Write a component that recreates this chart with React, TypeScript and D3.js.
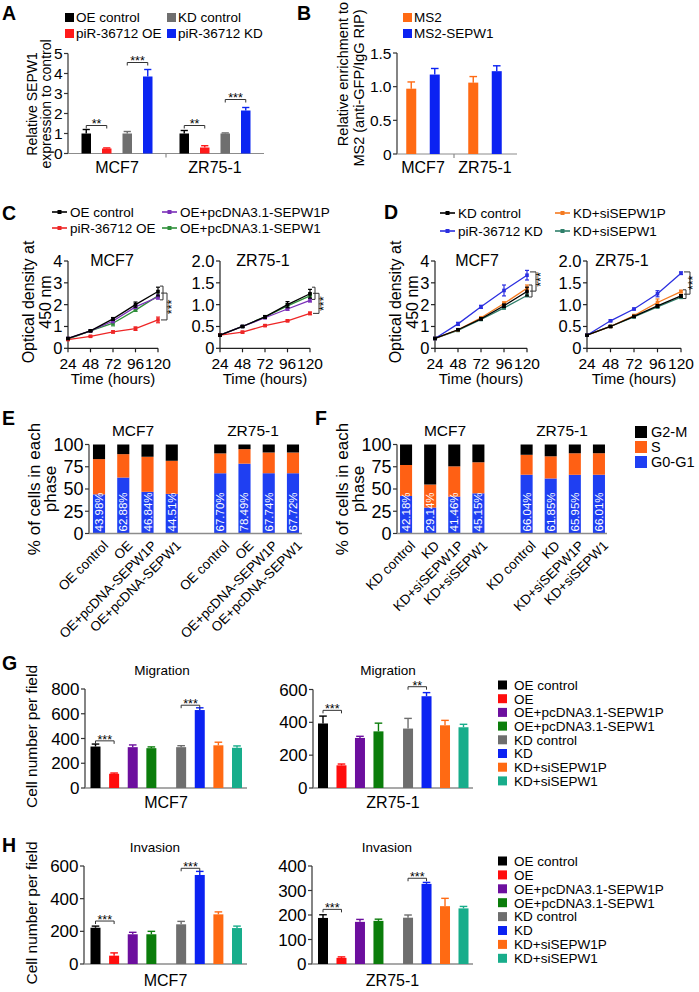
import React from "react";
import * as d3 from "d3";

const FONT = "'Liberation Sans', Arial, Helvetica, sans-serif";

/* ---------------- Panel A ---------------- */
const aGroups = ["MCF7", "ZR75-1"];
const aSeries = ["OE control", "piR-36712 OE", "KD control", "piR-36712 KD"];
const aColors = ["#000000", "#ff1a1a", "#6f6f6f", "#0b25f2"];
const aMCF7 = [1.0, 0.25, 1.0, 3.85];
const aMCF7Err = [0.2, 0.03, 0.1, 0.35];
const aZR = [1.0, 0.3, 1.0, 2.15];
const aZRErr = [0.15, 0.09, 0.03, 0.15];
const aSig = [
  { group: 0, from: 0, to: 1, level: 1.4, label: "**" },
  { group: 0, from: 2, to: 3, level: 4.55, label: "***" },
  { group: 1, from: 0, to: 1, level: 1.4, label: "**" },
  { group: 1, from: 2, to: 3, level: 2.7, label: "***" },
];
const aTicks = [0, 1, 2, 3, 4, 5];

/* ---------------- Panel B ---------------- */
const bGroups = ["MCF7", "ZR75-1"];
const bSeries = ["MS2", "MS2-SEPW1"];
const bColors = ["#ff6a13", "#0b22f2"];
const bMCF7 = [0.97, 1.18];
const bMCF7Err = [0.1, 0.09];
const bZR = [1.06, 1.23];
const bZRErr = [0.09, 0.08];
const bTicks = [0, 0.5, 1.0, 1.5];

/* ---------------- Panels C / D ---------------- */
const lineTimes = [24, 48, 72, 96, 120];
const cNames = ["OE control", "piR-36712 OE", "OE+pcDNA3.1-SEPW1P", "OE+pcDNA3.1-SEPW1"];
const cColors = ["#000000", "#ee2626", "#7a2fb8", "#2f8f3a"];
const cMCF7 = [
  [0.45, 0.8, 1.35, 2.0, 2.6],
  [0.4, 0.55, 0.75, 0.9, 1.3],
  [0.45, 0.8, 1.25, 1.9, 2.35],
  [0.42, 0.8, 1.15, 1.75, 2.4],
];
const cMCF7Err = [
  [0.03, 0.03, 0.06, 0.12, 0.2],
  [0.02, 0.03, 0.05, 0.08, 0.13],
  [0.03, 0.03, 0.08, 0.08, 0.1],
  [0.03, 0.03, 0.12, 0.06, 0.08],
];
const cZR = [
  [0.3, 0.5, 0.72, 1.0, 1.25],
  [0.3, 0.37, 0.52, 0.63, 0.8],
  [0.3, 0.5, 0.7, 0.9, 1.1],
  [0.3, 0.5, 0.72, 0.97, 1.2],
];
const cZRErr = [
  [0.02, 0.02, 0.03, 0.07, 0.1],
  [0.02, 0.02, 0.02, 0.02, 0.03],
  [0.02, 0.02, 0.02, 0.03, 0.04],
  [0.02, 0.02, 0.03, 0.05, 0.06],
];
const dNames = ["KD control", "piR-36712 KD", "KD+siSEPW1P", "KD+siSEPW1"];
const dColors = ["#000000", "#2b2fe0", "#f47a20", "#2f7f6a"];
const dMCF7 = [
  [0.45, 0.85, 1.35, 1.95, 2.6],
  [0.45, 1.12, 1.9, 2.65, 3.35],
  [0.45, 0.85, 1.4, 2.05, 2.75],
  [0.45, 0.82, 1.32, 1.85, 2.42],
];
const dMCF7Err = [
  [0.02, 0.03, 0.05, 0.08, 0.2],
  [0.02, 0.07, 0.07, 0.25, 0.22],
  [0.02, 0.03, 0.05, 0.08, 0.15],
  [0.02, 0.03, 0.04, 0.05, 0.05],
];
const dZR = [
  [0.3, 0.5, 0.73, 0.97, 1.2],
  [0.3, 0.63, 0.9, 1.25, 1.72],
  [0.3, 0.5, 0.75, 1.05, 1.3],
  [0.3, 0.5, 0.72, 0.95, 1.17],
];
const dZRErr = [
  [0.01, 0.02, 0.02, 0.03, 0.03],
  [0.01, 0.02, 0.02, 0.07, 0.03],
  [0.01, 0.02, 0.02, 0.08, 0.03],
  [0.01, 0.02, 0.02, 0.03, 0.03],
];
const odTicks4 = [0, 1, 2, 3, 4];
const odTicks2 = [0, 0.5, 1.0, 1.5, 2.0];

/* ---------------- Panels E / F ---------------- */
const phaseKeys = ["G0-G1", "S", "G2-M"];
const phaseColors = ["#1f3ff2", "#ff6014", "#000000"];
const eCats = ["OE control", "OE", "OE+pcDNA-SEPW1P", "OE+pcDNA-SEPW1"];
const eMCF7G0 = [43.98, 62.88, 46.84, 44.51];
const eMCF7S = [39.6, 26.3, 39.4, 37.2];
const eZRG0 = [67.7, 78.49, 67.74, 67.72];
const eZRS = [22.3, 16.3, 23.3, 23.3];
const fCats = ["KD control", "KD", "KD+siSEPW1P", "KD+siSEPW1"];
const fMCF7G0 = [42.18, 29.14, 41.46, 45.15];
const fMCF7S = [34.8, 25.9, 34.0, 34.9];
const fZRG0 = [66.04, 61.85, 65.95, 66.01];
const fZRS = [22.4, 24.9, 24.2, 24.2];
const phaseTicks = [0, 25, 50, 75, 100];

/* ---------------- Panels G / H ---------------- */
const mSeries = [
  "OE control", "OE", "OE+pcDNA3.1-SEPW1P", "OE+pcDNA3.1-SEPW1",
  "KD control", "KD", "KD+siSEPW1P", "KD+siSEPW1",
];
const mColors = ["#000000", "#ff0d0d", "#6c0f9e", "#0b7d0b", "#6e6e6e", "#0b22f2", "#ff6a13", "#18ad8b"];
const gMCF7 = [335, 115, 330, 322, 330, 630, 345, 325];
const gMCF7Err = [20, 6, 18, 10, 12, 18, 25, 15];
const gZR = [393, 138, 305, 345, 362, 559, 382, 370];
const gZRErr = [45, 8, 10, 50, 62, 22, 30, 18];
const hMCF7 = [222, 51, 182, 182, 243, 545, 304, 220];
const hMCF7Err = [10, 17, 12, 18, 18, 22, 15, 12];
const hZR = [188, 25, 172, 176, 189, 327, 236, 227];
const hZRErr = [13, 4, 10, 7, 11, 6, 32, 8];
const gMCF7Sig = [{ from: 0, to: 1, level: 381, label: "***" }, { from: 4, to: 5, level: 669, label: "***" }];
const gZRSig = [{ from: 0, to: 1, level: 473, label: "***" }, { from: 4, to: 5, level: 617, label: "**" }];
const hMCF7Sig = [{ from: 0, to: 1, level: 263, label: "***" }, { from: 4, to: 5, level: 586, label: "***" }];
const hZRSig = [{ from: 0, to: 1, level: 223, label: "***" }, { from: 4, to: 5, level: 350, label: "***" }];
const gMCF7Ticks = [0, 200, 400, 600, 800];
const gZRTicks = [0, 200, 400, 600];
const hMCF7Ticks = [0, 200, 400, 600];
const hZRTicks = [0, 100, 200, 300, 400];

/* ---------------- helpers ---------------- */
type Scale = (v: number) => number;

function Letter({ x, y, t }: { x: number; y: number; t: string }) {
  return (
    <text x={x} y={y} fontSize={19.5} fontWeight="bold">
      {t}
    </text>
  );
}

function YAxis({
  x, scale, ticks, fmt, fontSize, color = "#333", len = 4,
}: {
  x: number; scale: Scale; ticks: number[]; fmt: (v: number) => string; fontSize: number; color?: string; len?: number;
}) {
  return (
    <g>
      <line x1={x} x2={x} y1={scale(ticks[0])} y2={scale(ticks[ticks.length - 1])} stroke={color} strokeWidth={1.2} />
      {ticks.map((t) => (
        <g key={t}>
          <line x1={x - len} x2={x} y1={scale(t)} y2={scale(t)} stroke={color} strokeWidth={1.2} />
          <text x={x - len - 1.5} y={scale(t)} dy="0.36em" textAnchor="end" fontSize={fontSize}>
            {fmt(t)}
          </text>
        </g>
      ))}
    </g>
  );
}

function RotTitle({ x, y, lines, fontSize, gap }: { x: number; y: number; lines: string[]; fontSize: number; gap: number }) {
  return (
    <text transform={`translate(${x},${y}) rotate(-90)`} textAnchor="middle" fontSize={fontSize}>
      {lines.map((l, i) => (
        <tspan key={i} x={0} dy={i === 0 ? 0 : gap}>
          {l}
        </tspan>
      ))}
    </text>
  );
}

function Bar({ cx, w, v, e, y, color }: { cx: number; w: number; v: number; e: number; y: Scale; color: string }) {
  const top = y(v);
  const base = y(0);
  const et = y(v + e);
  return (
    <g>
      <line x1={cx} x2={cx} y1={top} y2={et} stroke={color} strokeWidth={1.4} />
      <line x1={cx - w * 0.38} x2={cx + w * 0.38} y1={et} y2={et} stroke={color} strokeWidth={1.4} />
      <rect x={cx - w / 2} y={top} width={w} height={base - top} fill={color} />
    </g>
  );
}

function HSig({ x1, x2, yy, label, fs = 12.5 }: { x1: number; x2: number; yy: number; label: string; fs?: number }) {
  return (
    <g>
      <path d={`M${x1},${yy + 3}V${yy}H${x2}V${yy + 3}`} fill="none" stroke="#333" strokeWidth={1} />
      <text x={(x1 + x2) / 2} y={yy + 2.8} textAnchor="middle" fontSize={fs}>
        {label}
      </text>
    </g>
  );
}

/* ---------------- Panel A ---------------- */
function PanelA() {
  const y = d3.scaleLinear().domain([0, 5]).range([153.5, 53.5]);
  const gx = d3.scaleBand<string>().domain(aGroups).range([68, 264]);
  const sx = d3.scalePoint<string>().domain(aSeries).range([-30.75, 30.75]);
  const vals = [aMCF7, aZR];
  const errs = [aMCF7Err, aZRErr];
  const cx = (g: number, s: number) => (gx(aGroups[g]) as number) + gx.bandwidth() / 2 + (sx(aSeries[s]) as number);
  const legCols = [65, 167];
  const legRows = [17.5, 33.5];
  return (
    <g>
      <Letter x={2} y={20} t="A" />
      {aSeries.map((s, i) => {
        const lx = legCols[i >= 2 ? 1 : 0];
        const ly = legRows[i % 2];
        return (
          <g key={s}>
            <rect x={lx} y={ly - 4.5} width={9} height={9} fill={aColors[i]} />
            <text x={lx + 11} y={ly + 4.8} fontSize={13.5}>
              {s}
            </text>
          </g>
        );
      })}
      <YAxis x={68} scale={y} ticks={aTicks} fmt={(v) => String(v)} fontSize={15.5} />
      <line x1={68} x2={264} y1={y(0)} y2={y(0)} stroke="#8c8c8c" strokeWidth={1.2} />
      <line x1={gx("ZR75-1") as number} x2={gx("ZR75-1") as number} y1={y(0)} y2={y(0) + 4} stroke="#8c8c8c" strokeWidth={1.2} />
      {aGroups.map((g, gi) =>
        aSeries.map((s, si) => (
          <Bar key={g + s} cx={cx(gi, si)} w={9.5} v={vals[gi][si]} e={errs[gi][si]} y={y} color={aColors[si]} />
        ))
      )}
      {aSig.map((s, i) => (
        <HSig key={i} x1={cx(s.group, s.from)} x2={cx(s.group, s.to)} yy={y(s.level)} label={s.label} />
      ))}
      {aGroups.map((g) => (
        <text key={g} x={(gx(g) as number) + gx.bandwidth() / 2} y={173} textAnchor="middle" fontSize={16}>
          {g}
        </text>
      ))}
      <RotTitle x={37} y={104} lines={["Relative SEPW1", "expression to control"]} fontSize={14} gap={13.5} />
    </g>
  );
}

/* ---------------- Panel B ---------------- */
function PanelB() {
  const y = d3.scaleLinear().domain([0, 1.5]).range([154, 53]);
  const gx = d3.scaleBand<string>().domain(bGroups).range([392, 516]);
  const sx = d3.scalePoint<string>().domain(bSeries).range([-11.75, 11.75]);
  const vals = [bMCF7, bZR];
  const errs = [bMCF7Err, bZRErr];
  const cx = (g: number, s: number) => (gx(bGroups[g]) as number) + gx.bandwidth() / 2 + (sx(bSeries[s]) as number);
  return (
    <g>
      <Letter x={297} y={20} t="B" />
      {bSeries.map((s, i) => (
        <g key={s}>
          <rect x={403} y={13 + i * 16} width={9} height={9} fill={bColors[i]} />
          <text x={414} y={22.3 + i * 16} fontSize={13.5}>
            {s}
          </text>
        </g>
      ))}
      <YAxis x={397} scale={y} ticks={bTicks} fmt={(v) => (v === 0 ? "0" : v.toFixed(1))} fontSize={15.5} />
      <line x1={397} x2={517} y1={y(0)} y2={y(0)} stroke="#8c8c8c" strokeWidth={1.2} />
      <line x1={gx("ZR75-1") as number} x2={gx("ZR75-1") as number} y1={y(0)} y2={y(0) + 4} stroke="#8c8c8c" strokeWidth={1.2} />
      {bGroups.map((g, gi) =>
        bSeries.map((s, si) => (
          <Bar key={g + s} cx={cx(gi, si)} w={10} v={vals[gi][si]} e={errs[gi][si]} y={y} color={bColors[si]} />
        ))
      )}
      {bGroups.map((g) => (
        <text key={g} x={(gx(g) as number) + gx.bandwidth() / 2} y={173} textAnchor="middle" fontSize={16}>
          {g}
        </text>
      ))}
      <text transform="translate(348,74) rotate(-90)" textAnchor="middle" fontSize={14.5}>
        Relative enrichment to
      </text>
      <text transform="translate(364,88) rotate(-90)" textAnchor="middle" fontSize={14.5}>
        MS2 (anti-GFP/IgG RIP)
      </text>
    </g>
  );
}

/* ---------------- Line plots ---------------- */
type Brk = { inner: [number, number]; outer: [number, number]; star: number };

function LinePlot({
  xr, yr, ymax, ticks, fmt, vals, errs, colors, title, titleX, brk, starDx = 18,
}: {
  xr: [number, number]; yr: [number, number]; ymax: number; ticks: number[]; fmt: (v: number) => string;
  vals: number[][]; errs: number[][]; colors: string[]; title: string; titleX: number; brk: Brk; starDx?: number;
}) {
  const x = d3.scaleLinear().domain([24, 120]).range(xr);
  const y = d3.scaleLinear().domain([0, ymax]).range(yr);
  const line = d3
    .line<number>()
    .x((_, i) => x(lineTimes[i]))
    .y((d) => y(d));
  const bx = x(120);
  const order = [3, 2, 1, 0];
  return (
    <g>
      <YAxis x={xr[0]} scale={y} ticks={ticks} fmt={fmt} fontSize={16.5} color="#222" />
      <line x1={xr[0]} x2={xr[1]} y1={y(0)} y2={y(0)} stroke="#222" strokeWidth={1.2} />
      {lineTimes.map((t) => (
        <g key={t}>
          <line x1={x(t)} x2={x(t)} y1={y(0)} y2={y(0) + 4} stroke="#222" strokeWidth={1.2} />
          <text x={x(t)} y={368.5} textAnchor="middle" fontSize={15.5}>
            {t}
          </text>
        </g>
      ))}
      {order.map((si) => (
        <g key={si}>
          <path d={line(vals[si]) as string} fill="none" stroke={colors[si]} strokeWidth={1.3} />
          {vals[si].map((v, i) => {
            const px = x(lineTimes[i]);
            const e = errs[si][i];
            return (
              <g key={i}>
                <line x1={px} x2={px} y1={y(v - e)} y2={y(v + e)} stroke={colors[si]} strokeWidth={1.2} />
                <line x1={px - 2} x2={px + 2} y1={y(v + e)} y2={y(v + e)} stroke={colors[si]} strokeWidth={1.2} />
                <line x1={px - 2} x2={px + 2} y1={y(v - e)} y2={y(v - e)} stroke={colors[si]} strokeWidth={1.2} />
                <rect x={px - 1.8} y={y(v) - 1.8} width={3.6} height={3.6} fill={colors[si]} />
              </g>
            );
          })}
        </g>
      ))}
      <path
        d={`M${bx + 2},${y(brk.inner[0])}H${bx + 5}V${y(brk.inner[1])}H${bx + 2}`}
        fill="none" stroke="#333" strokeWidth={1}
      />
      <path
        d={`M${bx + 3},${y(brk.outer[0])}H${bx + 9}V${y(brk.outer[1])}H${bx + 3}`}
        fill="none" stroke="#333" strokeWidth={1}
      />
      <text transform={`translate(${bx + starDx},${y(brk.star)}) rotate(-90)`} textAnchor="middle" fontSize={12.5}>
        ***
      </text>
      <text x={titleX} y={266} textAnchor="middle" fontSize={16}>
        {title}
      </text>
      <text x={(xr[0] + xr[1]) / 2} y={384} textAnchor="middle" fontSize={15}>
        Time (hours)
      </text>
    </g>
  );
}

function LineLegend({ names, colors, cols, rows }: { names: string[]; colors: string[]; cols: number[]; rows: number[] }) {
  return (
    <g>
      {names.map((n, i) => {
        const lx = cols[Math.floor(i / 2)];
        const ly = rows[i % 2];
        return (
          <g key={n}>
            <line x1={lx} x2={lx + 15} y1={ly} y2={ly} stroke={colors[i]} strokeWidth={1.6} />
            <rect x={lx + 5.5} y={ly - 2} width={4} height={4} fill={colors[i]} />
            <text x={lx + 18} y={ly + 4.8} fontSize={13.5}>
              {n}
            </text>
          </g>
        );
      })}
    </g>
  );
}

function PanelC() {
  const fmt2 = (v: number) => (v === 0 ? "0" : v.toFixed(1));
  return (
    <g>
      <Letter x={2} y={220} t="C" />
      <LineLegend names={cNames} colors={cColors} cols={[52, 162]} rows={[212, 228]} />
      <LinePlot
        xr={[68, 158]} yr={[348.3, 261]} ymax={4} ticks={odTicks4} fmt={(v) => String(v)}
        vals={cMCF7} errs={cMCF7Err} colors={cColors} title="MCF7" titleX={112}
        brk={{ inner: [2.85, 2.22], outer: [2.53, 1.3], star: 1.9 }}
      />
      <LinePlot
        xr={[220, 310]} yr={[348.3, 261]} ymax={2} ticks={odTicks2} fmt={fmt2}
        vals={cZR} errs={cZRErr} colors={cColors} title="ZR75-1" titleX={263}
        brk={{ inner: [1.4, 1.12], outer: [1.26, 0.8], star: 1.02 }}
      />
      <RotTitle x={34} y={302} lines={["Optical density at", "450 nm"]} fontSize={16} gap={17} />
    </g>
  );
}

function PanelD() {
  const fmt2 = (v: number) => (v === 0 ? "0" : v.toFixed(1));
  return (
    <g>
      <Letter x={384} y={219} t="D" />
      <LineLegend names={dNames} colors={dColors} cols={[440, 555]} rows={[213, 231]} />
      <LinePlot
        xr={[435, 527]} yr={[348.3, 261]} ymax={4} ticks={odTicks4} fmt={(v) => String(v)}
        vals={dMCF7} errs={dMCF7Err} colors={dColors} title="MCF7" titleX={477}
        brk={{ inner: [2.9, 2.35], outer: [3.5, 2.62], star: 3.15 }}
      />
      <LinePlot
        xr={[587, 681]} yr={[348.3, 261]} ymax={2} ticks={odTicks2} fmt={fmt2}
        vals={dZR} errs={dZRErr} colors={dColors} title="ZR75-1" titleX={622}
        brk={{ inner: [1.34, 1.14], outer: [1.75, 1.24], star: 1.5 }} starDx={16}
      />
      <RotTitle x={401} y={302} lines={["Optical density at", "450 nm"]} fontSize={16} gap={17} />
    </g>
  );
}

/* ---------------- Cell-cycle stacked bars ---------------- */
function CyclePanel({
  letter, letterX, axisX, axisEnd, band, cats, mG0, mS, zG0, zS, titleXs, legend,
}: {
  letter: string; letterX: number; axisX: number; axisEnd: number; band: [number, number]; cats: string[];
  mG0: number[]; mS: number[]; zG0: number[]; zS: number[]; titleXs: [number, number]; legend: boolean;
}) {
  const y = d3.scaleLinear().domain([0, 100]).range([533.5, 444.5]);
  const rows: any[] = [];
  cats.forEach((c, i) => rows.push({ key: "MCF7|" + c, cat: c, "G0-G1": mG0[i], S: mS[i], "G2-M": 100 - mG0[i] - mS[i] }));
  const zrRows: any[] = [];
  cats.forEach((c, i) => zrRows.push({ key: "ZR|" + c, cat: c, "G0-G1": zG0[i], S: zS[i], "G2-M": 100 - zG0[i] - zS[i] }));
  const all = [...rows, ...zrRows];
  const domain = [...rows.map((r) => r.key), "gap", ...zrRows.map((r) => r.key)];
  const x = d3.scaleBand<string>().domain(domain).range(band).paddingInner(0.5).paddingOuter(0.25);
  const stack = d3.stack<any>().keys(phaseKeys)(all);
  return (
    <g>
      <Letter x={letterX} y={425} t={letter} />
      <text x={titleXs[0]} y={435.5} textAnchor="middle" fontSize={15.5}>
        MCF7
      </text>
      <text x={titleXs[1]} y={435.5} textAnchor="middle" fontSize={15.5}>
        ZR75-1
      </text>
      {stack.map((layer, li) => (
        <g key={layer.key} fill={phaseColors[li]}>
          {layer.map((d, i) => (
            <rect
              key={i}
              x={x(all[i].key) as number}
              y={y(d[1])}
              width={x.bandwidth()}
              height={y(d[0]) - y(d[1])}
            />
          ))}
        </g>
      ))}
      {all.map((r) => {
        const cx = (x(r.key) as number) + x.bandwidth() / 2;
        return (
          <text
            key={r.key + "p"}
            transform={`translate(${cx + 4},${y(0) - 2}) rotate(-90)`}
            fontSize={11.5}
            fill="#ffffff"
          >
            {r["G0-G1"].toFixed(2) + "%"}
          </text>
        );
      })}
      <YAxis x={axisX} scale={y} ticks={phaseTicks} fmt={(v) => String(v)} fontSize={18} />
      <line x1={axisX} x2={axisEnd} y1={y(0)} y2={y(0)} stroke="#8c8c8c" strokeWidth={1.3} />
      {all.map((r) => {
        const cx = (x(r.key) as number) + x.bandwidth() / 2;
        return (
          <text
            key={r.key + "l"}
            transform={`translate(${cx + 10},${y(0) + 13}) rotate(-45)`}
            textAnchor="end"
            fontSize={13.5}
          >
            {r.cat}
          </text>
        );
      })}
      <RotTitle x={axisX - 49} y={489} lines={["% of cells in each", "phase"]} fontSize={17} gap={16} />
      {legend &&
        [2, 1, 0].map((k, i) => (
          <g key={k}>
            <rect x={635} y={426 + i * 15} width={12} height={12} fill={phaseColors[k]} />
            <text x={651} y={437 + i * 15} fontSize={14.5}>
              {phaseKeys[k]}
            </text>
          </g>
        ))}
    </g>
  );
}

/* ---------------- Migration / invasion ---------------- */
type Sig = { from: number; to: number; level: number; label: string };

function MigPlot({
  axisX, axisEnd, pos, yr, ymax, ticks, vals, errs, sig, title, titleX, titleY, label, labelY, yTitle,
}: {
  axisX: number; axisEnd: number; pos: [number, number]; yr: [number, number]; ymax: number; ticks: number[];
  vals: number[]; errs: number[]; sig: Sig[]; title: string; titleX: number; titleY: number; label: string;
  labelY: number; yTitle?: boolean;
}) {
  const y = d3.scaleLinear().domain([0, ymax]).range(yr);
  const slot = d3.scaleLinear().domain([0, 7.6]).range(pos);
  const cx = (i: number) => slot(i + (i >= 4 ? 0.6 : 0));
  return (
    <g>
      <text x={titleX} y={titleY} textAnchor="middle" fontSize={13.5}>
        {title}
      </text>
      <YAxis x={axisX} scale={y} ticks={ticks} fmt={(v) => String(v)} fontSize={17} />
      <line x1={axisX} x2={axisEnd} y1={y(0)} y2={y(0)} stroke="#8c8c8c" strokeWidth={1.3} />
      {vals.map((v, i) => (
        <Bar key={i} cx={cx(i)} w={10} v={v} e={errs[i]} y={y} color={mColors[i]} />
      ))}
      {sig.map((s, i) => (
        <HSig key={i} x1={cx(s.from)} x2={cx(s.to)} yy={y(s.level)} label={s.label} />
      ))}
      <text x={(axisX + axisEnd) / 2} y={labelY} textAnchor="middle" fontSize={16}>
        {label}
      </text>
      {yTitle && (
        <RotTitle x={37} y={(yr[0] + yr[1]) / 2 - 2} lines={["Cell number per field"]} fontSize={15.5} gap={0} />
      )}
    </g>
  );
}

function MigLegend({ x, y0, step }: { x: number; y0: number; step: number }) {
  return (
    <g>
      {mSeries.map((s, i) => (
        <g key={s}>
          <rect x={x} y={y0 + i * step - 4.5} width={9} height={9} fill={mColors[i]} />
          <text x={x + 16} y={y0 + i * step + 4.8} fontSize={13.5}>
            {s}
          </text>
        </g>
      ))}
    </g>
  );
}

function PanelG() {
  return (
    <g>
      <Letter x={2} y={670} t="G" />
      <MigPlot
        axisX={85} axisEnd={247} pos={[95.5, 237]} yr={[788, 689]} ymax={800} ticks={gMCF7Ticks}
        vals={gMCF7} errs={gMCF7Err} sig={gMCF7Sig} title="Migration" titleX={162} titleY={675}
        label="MCF7" labelY={808} yTitle
      />
      <MigPlot
        axisX={313} axisEnd={473} pos={[323, 463.5]} yr={[788, 689.5]} ymax={600} ticks={gZRTicks}
        vals={gZR} errs={gZRErr} sig={gZRSig} title="Migration" titleX={388} titleY={675}
        label="ZR75-1" labelY={808}
      />
      <MigLegend x={498} y0={685} step={13.7} />
    </g>
  );
}

function PanelH() {
  return (
    <g>
      <Letter x={2} y={852} t="H" />
      <MigPlot
        axisX={84} axisEnd={247} pos={[95.5, 237]} yr={[964, 866]} ymax={600} ticks={hMCF7Ticks}
        vals={hMCF7} errs={hMCF7Err} sig={hMCF7Sig} title="Invasion" titleX={155} titleY={852}
        label="MCF7" labelY={986} yTitle
      />
      <MigPlot
        axisX={312} axisEnd={473} pos={[323, 463.5]} yr={[964, 866]} ymax={400} ticks={hZRTicks}
        vals={hZR} errs={hZRErr} sig={hZRSig} title="Invasion" titleX={387} titleY={852}
        label="ZR75-1" labelY={986}
      />
      <MigLegend x={498} y0={861} step={13.9} />
    </g>
  );
}

export default function App() {
  return (
    <svg
      width={699}
      height={992}
      viewBox="0 0 699 992"
      style={{ position: "absolute", left: 0, top: 0, display: "block" }}
      fontFamily={FONT}
    >
      <rect width={699} height={992} fill="#ffffff" />
      <PanelA />
      <PanelB />
      <PanelC />
      <PanelD />
      <CyclePanel
        letter="E" letterX={2} axisX={89} axisEnd={302} band={[86.9, 305.1]} cats={eCats}
        mG0={eMCF7G0} mS={eMCF7S} zG0={eZRG0} zS={eZRS} titleXs={[133, 253]} legend={false}
      />
      <CyclePanel
        letter="F" letterX={315} axisX={397} axisEnd={607} band={[394, 611]} cats={fCats}
        mG0={fMCF7G0} mS={fMCF7S} zG0={fZRG0} zS={fZRS} titleXs={[445, 562]} legend
      />
      <PanelG />
      <PanelH />
    </svg>
  );
}
